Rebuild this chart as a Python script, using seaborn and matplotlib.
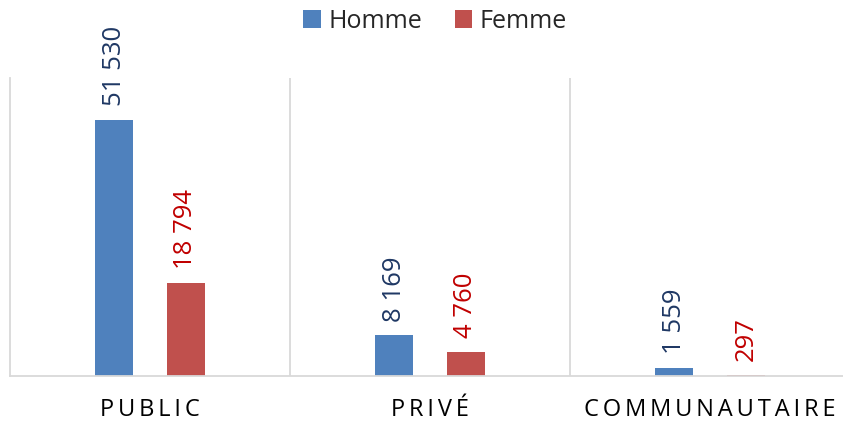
import pandas as pd
import matplotlib.pyplot as plt
import seaborn as sns

# Chart data
categories = ['PUBLIC', 'PRIVÉ', 'COMMUNAUTAIRE']
homme = [51530, 8169, 1559]
femme = [18794, 4760, 297]
series = ['Homme', 'Femme']

df = pd.DataFrame({
    'Secteur': categories * 2,
    'Sexe': ['Homme'] * 3 + ['Femme'] * 3,
    'Effectif': homme + femme,
})

sns.set_style('white')
plt.rcParams['font.family'] = ['Open Sans', 'DejaVu Sans']

fig = plt.figure(figsize=(8.43, 4.25), dpi=100)
ax = fig.add_axes([10 / 843, 1 - 376 / 425, 840 / 843, 298 / 425])

palette = {'Homme': '#4F81BD', 'Femme': '#C0504D'}
sns.barplot(data=df, x='Secteur', y='Effectif', hue='Sexe', hue_order=series,
            palette=palette, width=0.514, gap=0.47, saturation=1,
            linewidth=0, ax=ax, legend=True)

# Value labels above the bars
label_colors = ['#1F3864', '#C00000']
for cont, col in zip(ax.containers, label_colors):
    labels = [f"{int(v):,}".replace(',', ' ') for v in cont.datavalues]
    ax.bar_label(cont, labels=labels, rotation=90, padding=10,
                 color=col, fontsize=18.5)

ax.set_xlim(-0.5, 2.5)
ax.set_ylim(0, 60000)
ax.set_yticks([])
ax.set_xlabel('')
ax.set_ylabel('')

# Category separators
for x in [0.5, 1.5]:
    ax.axvline(x, color='#D9D9D9', linewidth=1.3)
for side in ['top', 'right']:
    ax.spines[side].set_visible(False)
for side in ['left', 'bottom']:
    ax.spines[side].set_color('#D9D9D9')
    ax.spines[side].set_linewidth(1.3)

spaced = ['\u2009'.join(c) for c in categories]
ax.set_xticks(range(3))
ax.set_xticklabels(spaced, fontsize=17, color='#000000')
ax.tick_params(axis='x', length=0, pad=16)

# Legend on top
handles, labels = ax.get_legend_handles_labels()
ax.get_legend().remove()
fig.legend(handles, labels, loc='center', bbox_to_anchor=(435 / 843, 1 - 21 / 425),
           ncol=2, frameon=False, fontsize=18, handlelength=0.7,
           handleheight=0.7, handletextpad=0.3, columnspacing=1.3)

fig.savefig('out.png', dpi=100)
